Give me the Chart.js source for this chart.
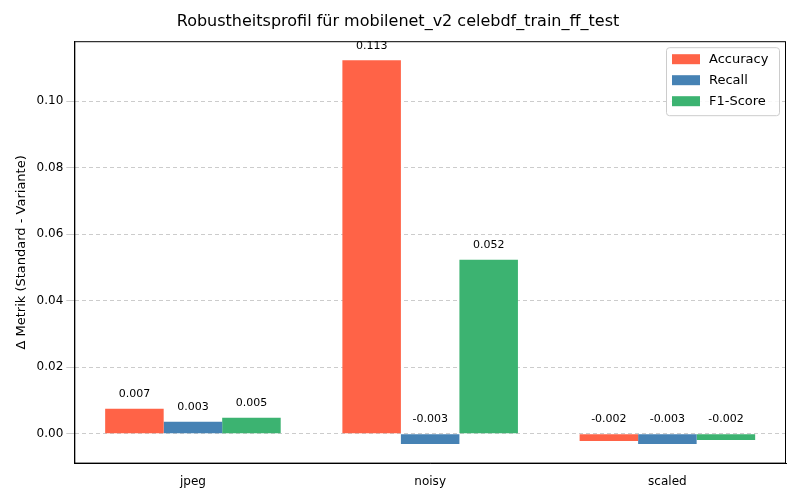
<!DOCTYPE html>
<html>
<head>
<meta charset="utf-8">
<script src="https://cdn.jsdelivr.net/npm/chart.js@4"></script>
<style>
  body { margin: 0; background: #fff; }
  #wrap { width: 800px; height: 500px; }
</style>
</head>
<body>
<div id="wrap"><canvas id="c"></canvas></div>
<script>
const categories = ["jpeg", "noisy", "scaled"];
const accuracy = [0.0075, 0.1123, -0.0022];
const recall = [0.0036, -0.0031, -0.0031];
const f1 = [0.0048, 0.0523, -0.0019];
const accLabels = ["0.007", "0.113", "-0.002"];
const recLabels = ["0.003", "-0.003", "-0.003"];
const f1Labels = ["0.005", "0.052", "-0.002"];

// value labels, frame and a matplotlib-like legend box
const extras = {
    id: "extras",
    afterDatasetsDraw(chart) {
        const ctx = chart.ctx;
        const y = chart.scales.y;
        const a = chart.chartArea;
        const all = [accLabels, recLabels, f1Labels];
        ctx.save();
        ctx.font = "11px 'DejaVu Sans'";
        ctx.fillStyle = "#000";
        ctx.textAlign = "center";
        ctx.textBaseline = "bottom";
        chart.data.datasets.forEach((ds, i) => {
            chart.getDatasetMeta(i).data.forEach((bar, j) => {
                const top = y.getPixelForValue(Math.max(ds.data[j], 0));
                ctx.fillText(all[i][j], bar.x, top - 9);
            });
        });

        // frame
        ctx.strokeStyle = "#000";
        ctx.lineWidth = 1;
        ctx.strokeRect(a.left + 0.5, a.top + 0.5, a.right - a.left - 1, a.bottom - a.top - 1);

        // legend
        const w = 113, h = 68;
        const lx = a.right - w - 7, ly = a.top + 6;
        ctx.fillStyle = "rgba(255,255,255,0.85)";
        ctx.strokeStyle = "#ccc";
        ctx.beginPath();
        ctx.roundRect(lx + 0.5, ly + 0.5, w, h, 3);
        ctx.fill();
        ctx.stroke();
        ctx.font = "13px 'DejaVu Sans'";
        ctx.textAlign = "left";
        ctx.textBaseline = "middle";
        chart.data.datasets.forEach((ds, i) => {
            const cy = ly + 12 + i * 21;
            ctx.fillStyle = ds.backgroundColor;
            ctx.fillRect(lx + 6, cy - 5, 28, 10);
            ctx.fillStyle = "#000";
            ctx.fillText(ds.label, lx + 43, cy);
        });
        ctx.restore();
    }
};

Chart.defaults.font.family = "'DejaVu Sans', sans-serif";
Chart.defaults.color = "#000";

new Chart(document.getElementById("c"), {
    type: "bar",
    data: {
        labels: categories,
        datasets: [
            { label: "Accuracy", data: accuracy, backgroundColor: "#ff6347" },
            { label: "Recall", data: recall, backgroundColor: "#4682b4" },
            { label: "F1-Score", data: f1, backgroundColor: "#3cb371" }
        ]
    },
    options: {
        responsive: true,
        maintainAspectRatio: false,
        animation: false,
        layout: { padding: { left: 10, right: 14, top: 0, bottom: 8 } },
        datasets: { bar: { categoryPercentage: 0.74, barPercentage: 1.0 } },
        plugins: {
            title: {
                display: true,
                text: "Robustheitsprofil für mobilenet_v2 celebdf_train_ff_test",
                font: { size: 16, weight: "normal" },
                padding: { top: 12, bottom: 10 }
            },
            legend: { display: false },
            tooltip: { enabled: false }
        },
        scales: {
            x: {
                grid: { display: false },
                border: { color: "#000" },
                ticks: { font: { size: 12 } }
            },
            y: {
                min: -0.009,
                max: 0.118,
                border: { color: "#000", dash: [4, 3] },
                grid: { color: "#ccc" },
                ticks: {
                    font: { size: 12 },
                    callback: v => v.toFixed(2)
                },
                afterBuildTicks: s => {
                    s.ticks = [0, 0.02, 0.04, 0.06, 0.08, 0.1].map(v => ({ value: v }));
                },
                title: { display: true, text: "Δ Metrik (Standard - Variante)", font: { size: 13 } }
            }
        }
    },
    plugins: [extras]
});
</script>
</body>
</html>
